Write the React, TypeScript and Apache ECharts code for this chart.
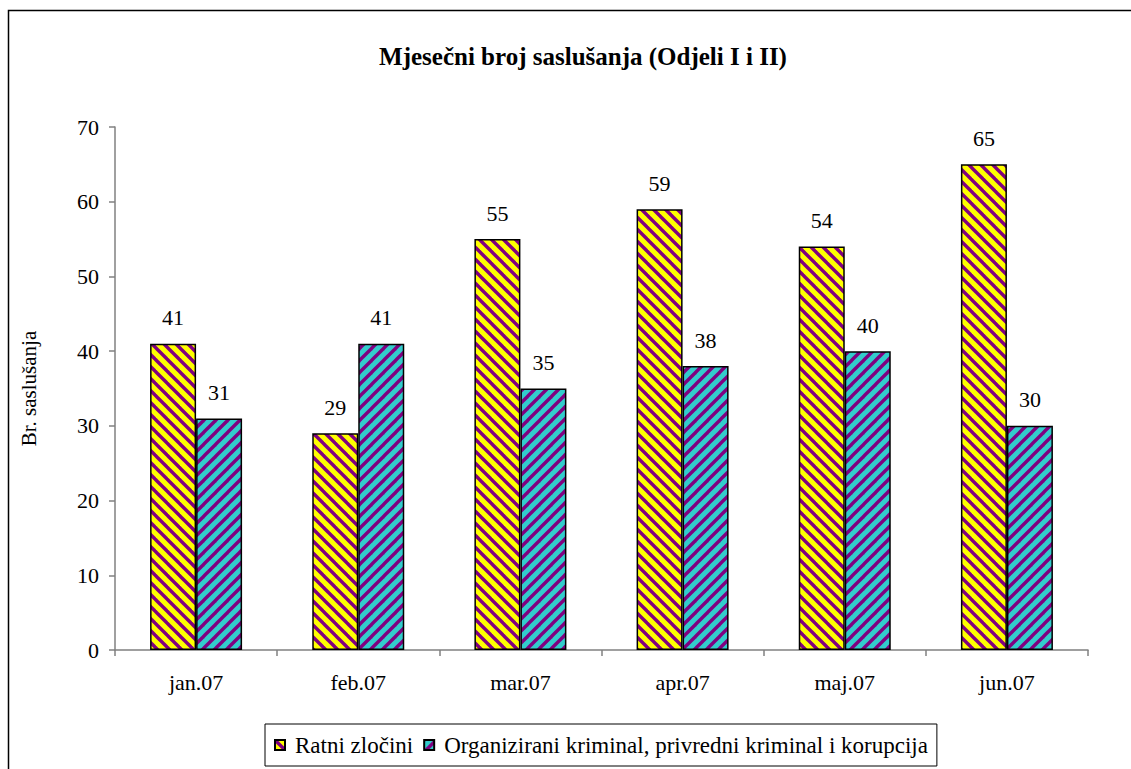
import React, { useEffect, useRef } from "react";
import * as echarts from "echarts";

const categories = ["jan.07", "feb.07", "mar.07", "apr.07", "maj.07", "jun.07"];
const ratniZlocini = [41, 29, 55, 59, 54, 65];
const organizirani = [31, 41, 35, 38, 40, 30];
const seriesNames = ["Ratni zločini", "Organizirani kriminal, privredni kriminal i korupcija"];

function makePattern(bg: string, fg: string, dir: "back" | "fwd") {
  const s = 12;
  const c = document.createElement("canvas");
  c.width = s;
  c.height = s;
  const ctx = c.getContext("2d")!;
  ctx.fillStyle = bg;
  ctx.fillRect(0, 0, s, s);
  ctx.strokeStyle = fg;
  ctx.lineWidth = 3.4;
  for (let k = -1; k <= 1; k++) {
    ctx.beginPath();
    if (dir === "back") {
      ctx.moveTo(k * s - 2, -2);
      ctx.lineTo(k * s + s + 2, s + 2);
    } else {
      ctx.moveTo(k * s - 2, s + 2);
      ctx.lineTo(k * s + s + 2, -2);
    }
    ctx.stroke();
  }
  return c;
}

export default function App() {
  const ref = useRef<HTMLDivElement>(null);
  useEffect(() => {
    if (!ref.current) return;
    const chart = echarts.init(ref.current, undefined, { renderer: "svg" });
    const yellow = { image: makePattern("#ffff00", "#800080", "back"), repeat: "repeat" };
    const cyan = { image: makePattern("#33cccc", "#800080", "fwd"), repeat: "repeat" };
    const font = "'Liberation Serif', 'Times New Roman', serif";
    const labelStyle = { show: true, position: "top", distance: 15, color: "#000", fontFamily: font, fontSize: 22 };
    chart.setOption({
      animation: false,
      backgroundColor: "#fff",
      textStyle: { fontFamily: font },
      title: {
        text: "Mjesečni broj saslušanja (Odjeli I i II)",
        left: 578,
        textAlign: "center",
        top: 39,
        textStyle: { fontFamily: font, fontSize: 25, fontWeight: "bold", color: "#000" },
      },
      legend: {
        left: 265,
        top: 724,
        padding: [9, 9, 9, 9],
        borderColor: "#000",
        borderWidth: 1,
        itemWidth: 10,
        itemHeight: 10,
        itemGap: 10,
        icon: "rect",
        textStyle: { fontFamily: font, fontSize: 23, color: "#000", padding: [0, 0, 0, 5], lineHeight: 24 },
        data: seriesNames,
      },
      grid: { left: 115, right: 43, top: 127, bottom: 119 },
      xAxis: {
        type: "category",
        data: categories,
        boundaryGap: true,
        axisLine: { lineStyle: { color: "#808080", width: 1.5 } },
        axisTick: { show: true, length: 6, lineStyle: { color: "#808080", width: 1.5 } },
        axisLabel: { color: "#000", fontFamily: font, fontSize: 22, margin: 21 },
      },
      yAxis: {
        type: "value",
        min: 0,
        max: 70,
        interval: 10,
        name: "Br. saslušanja",
        nameLocation: "middle",
        nameGap: 76,
        nameTextStyle: { fontFamily: font, fontSize: 21, color: "#000" },
        splitLine: { show: false },
        axisLine: { show: true, lineStyle: { color: "#808080", width: 1.5 } },
        axisTick: { show: true, length: 6, lineStyle: { color: "#808080", width: 1.5 } },
        axisLabel: { color: "#000", fontFamily: font, fontSize: 22, margin: 16 },
      },
      series: [
        {
          name: seriesNames[0],
          type: "bar",
          data: ratniZlocini,
          barWidth: 46,
          barGap: "0%",
          itemStyle: { color: yellow, borderColor: "#000", borderWidth: 1.5 },
          label: labelStyle,
        },
        {
          name: seriesNames[1],
          type: "bar",
          data: organizirani,
          barWidth: 46,
          barGap: "0%",
          itemStyle: { color: cyan, borderColor: "#000", borderWidth: 1.5 },
          label: labelStyle,
        },
      ],
      graphic: [
        {
          type: "rect",
          shape: { x: 8.5, y: 10.5, width: 1200, height: 800 },
          style: { fill: "none", stroke: "#000", lineWidth: 1.5 },
          silent: true,
        },
      ],
    });
    return () => chart.dispose();
  }, []);
  return (
    <div
      ref={ref}
      style={{ position: "fixed", left: 0, top: 0, width: 1131, height: 769 }}
    />
  );
}
